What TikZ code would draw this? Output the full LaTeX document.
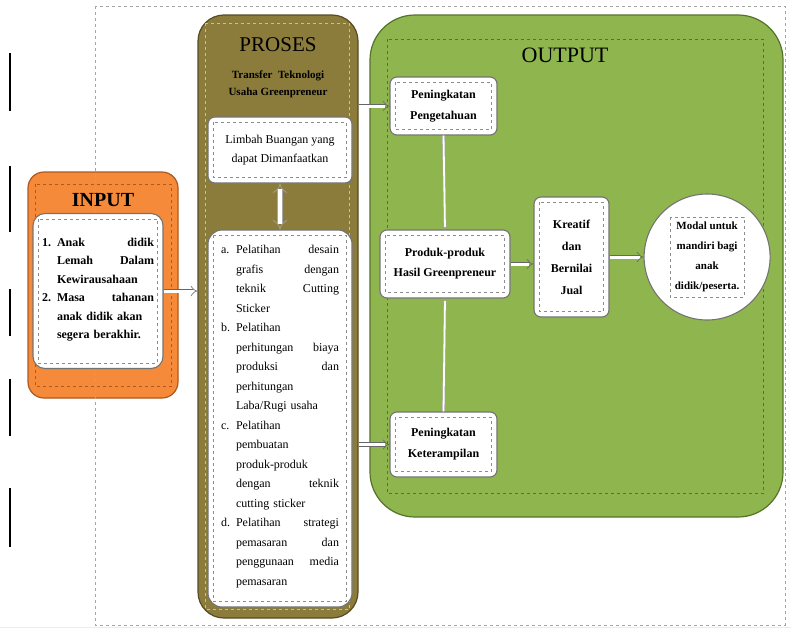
\documentclass[tikz,border=0pt]{standalone}
\usepackage{fontspec}
\setmainfont{Liberation Serif}
\usetikzlibrary{positioning,arrows.meta}

\definecolor{oranye}{RGB}{244,138,58}
\definecolor{oranyetua}{RGB}{176,88,30}
\definecolor{zaitun}{RGB}{139,124,60}
\definecolor{zaituntua}{RGB}{88,76,34}
\definecolor{zaitunmuda}{RGB}{205,192,140}
\definecolor{hijau}{RGB}{143,182,78}
\definecolor{hijautua}{RGB}{84,116,40}

\newcommand{\butir}[3]{\noindent\makebox[#1][l]{#2}\parbox[t]{\dimexpr\hsize-#1\relax}{#3\strut}\par\prevdepth=\dp\strutbox}

\begin{document}
\begin{tikzpicture}[x=1pt,y=-1pt,
  kotak/.style={draw=black!55, line width=1.1pt, fill=white, rounded corners=7pt, inner sep=0pt},
  wadah/.style={line width=1.2pt, rounded corners=#1},
  wadah/.default=16pt,
  garis/.style={draw=black!45, dashed, line width=0.5pt},
  panah/.style={draw=black!60, double=white, double distance=3pt, line width=0.6pt, -{Implies}},
  panah kecil/.style={draw=black!35, double=white, double distance=1.8pt, line width=0.5pt, -{Implies}},
  panah dua/.style={draw=black!35, double=white, double distance=4.5pt, line width=0.6pt, {Implies}-{Implies}}]
  \useasboundingbox (0,0) rectangle (791,629);
  \fill[white] (0,0) rectangle (791,629);

  \foreach \a/\b in {53/111,166/232,289/336,379/436,488/547}
    \draw[line width=2pt] (10,\a) -- (10,\b);
  \draw[cyan!15, line width=1pt] (0,627) -- (791,627);

  % input
  \node[wadah, fill=oranye, draw=oranyetua, minimum width=150pt, minimum height=226pt] (input) at (103,285) {};
  \draw[oranyetua, dashed, line width=0.5pt] ([shift={(8,13)}]input.north west) rectangle ([shift={(-7,-12)}]input.south east);
  \draw[gray!70, dashed, line width=0.6pt] (95,6) rectangle (785,625);
  \node[font=\fontsize{20}{24}\selectfont\bfseries] (judulin) at (103,200) {INPUT};
  \node[kotak, rounded corners=12pt, minimum width=130pt, minimum height=155pt, text width=112pt,
        font=\fontsize{12}{18.5}\selectfont\bfseries] (inputin) at (98,291) {%
    \butir{15pt}{1.}{Anak\hfill didik\\Lemah\hfill Dalam\\Kewirausahaan}
    \butir{15pt}{2.}{Masa\hfill tahanan\\anak didik akan\\segera berakhir.}};

  % proses
  \node[wadah=26pt, fill=zaitun, draw=zaituntua, minimum width=160pt, minimum height=603pt] (proses) at (278,316.5) {};
  \draw[zaitunmuda, dashed, line width=0.6pt] ([shift={(8,9)}]proses.north west) rectangle ([shift={(-9,-9)}]proses.south east);
  \node[font=\fontsize{21}{24}\selectfont] (judulpr) at (278,45) {PROSES};
  \node[font=\fontsize{11}{17}\selectfont\bfseries, align=center] (sub) at (278,84) {Transfer\ \ Teknologi\\Usaha Greenpreneur};
  \node[kotak, minimum width=144pt, minimum height=66pt, align=center, font=\fontsize{12}{19}\selectfont] (limbah) at (280,150)
    {Limbah Buangan yang\\dapat Dimanfaatkan};
  \node[kotak, rounded corners=14pt, minimum width=144pt, minimum height=377pt, text width=118pt,
        font=\fontsize{12}{19.5}\selectfont] (daftar) at (280,418.5) {%
    \butir{15pt}{a.}{Pelatihan\hfill desain\\grafis\hfill dengan\\teknik\hfill Cutting\\Sticker}
    \butir{15pt}{b.}{Pelatihan\\perhitungan\hfill biaya\\produksi\hfill dan\\perhitungan\\Laba/Rugi usaha}
    \butir{15pt}{c.}{Pelatihan\\pembuatan\\produk-produk\\dengan\hfill teknik\\cutting sticker}
    \butir{15pt}{d.}{Pelatihan\hfill strategi\\pemasaran\hfill dan\\penggunaan\hfill media\\pemasaran}};

  % output
  \node[wadah=45pt, fill=hijau, draw=hijautua, minimum width=413pt, minimum height=502pt] (output) at (576.5,266) {};
  \draw[hijautua, dashed, line width=0.6pt] ([shift={(18,25)}]output.north west) rectangle ([shift={(-20,-24)}]output.south east);
  \node[font=\fontsize{22}{24}\selectfont] (judulout) at (565,55) {OUTPUT};
  \node[kotak, minimum width=107pt, minimum height=58pt, align=center, font=\fontsize{12}{21}\selectfont\bfseries] (penget) at (443.5,106)
    {Peningkatan\\Pengetahuan};
  \node[kotak, minimum width=130pt, minimum height=68pt, align=center, font=\fontsize{12}{20}\selectfont\bfseries] (produk) at (445,264)
    {Produk-produk\\Hasil Greenpreneur};
  \node[kotak, minimum width=107pt, minimum height=65pt, align=center, font=\fontsize{12}{21}\selectfont\bfseries] (ketr) at (443.5,444.5)
    {Peningkatan\\Keterampilan};
  \node[kotak, minimum width=75pt, minimum height=120pt, align=center, font=\fontsize{12}{22}\selectfont\bfseries] (kreatif) at (571.5,257)
    {Kreatif\\dan\\Bernilai\\Jual};
  \node[kotak, circle, minimum size=126pt, align=center, font=\fontsize{11}{20}\selectfont\bfseries, right=34pt of kreatif] (modal)
    {Modal untuk\\mandiri bagi\\anak\\didik/peserta.};

  \foreach \n in {inputin,limbah,daftar,penget,produk,ketr,kreatif}
    \draw[garis] ([shift={(6,6)}]\n.north west) rectangle ([shift={(-6,-6)}]\n.south east);
  \draw[garis] ([shift={(-37,-40)}]modal.center) rectangle ([shift={(37,40)}]modal.center);

  \draw[panah] (inputin.east) -- (inputin.east -| proses.west);
  \draw[panah dua] (limbah.south) -- (daftar.north);
  \draw[panah] (proses.east |- penget.west) -- (penget.west);
  \draw[panah] (proses.east |- ketr.west) -- (ketr.west);
  \draw[panah kecil] (penget.south) -- (produk.north);
  \draw[panah kecil] (ketr.north) -- (produk.south);
  \draw[panah] (produk.east) -- (produk.east -| kreatif.west);
  \draw[panah] (kreatif.east) -- (modal.west);
\end{tikzpicture}
\end{document}
